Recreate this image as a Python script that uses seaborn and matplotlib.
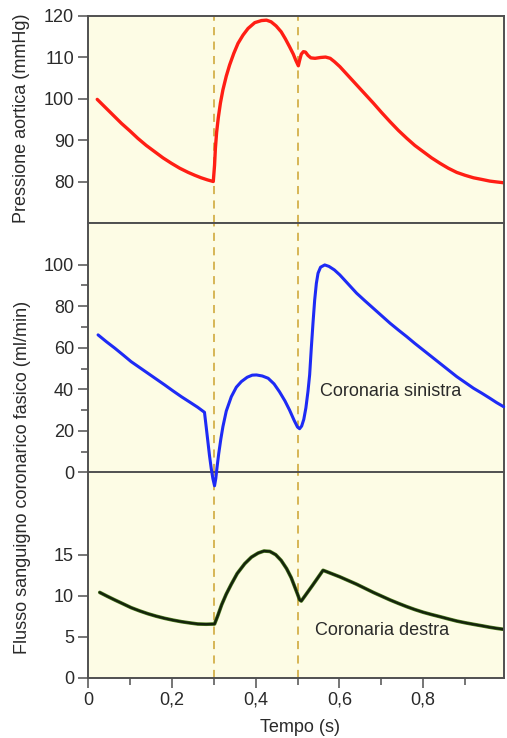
import numpy as np
import pandas as pd
import matplotlib
matplotlib.use("Agg")
import matplotlib.pyplot as plt
import matplotlib.patheffects as pe
from matplotlib.ticker import FixedLocator
import seaborn as sns

# ---------------- data ----------------
t_aorta = [0.022, 0.035, 0.048, 0.064, 0.080, 0.100, 0.119, 0.139, 0.159, 0.179,
           0.199, 0.219, 0.239, 0.255, 0.270, 0.285, 0.299,
           0.302, 0.304, 0.307, 0.311, 0.316, 0.322, 0.330, 0.338, 0.348, 0.358,
           0.370, 0.382, 0.398, 0.414, 0.426, 0.437, 0.449, 0.461, 0.471, 0.481,
           0.490, 0.496, 0.502, 0.505, 0.509, 0.514, 0.519, 0.525, 0.532, 0.542,
           0.555, 0.567, 0.578, 0.588, 0.601, 0.621, 0.641, 0.661, 0.681, 0.701,
           0.721, 0.741, 0.761, 0.780, 0.800, 0.820, 0.840, 0.860, 0.880, 0.900,
           0.920, 0.940, 0.959, 0.975, 0.992]
p_aorta = [99.9, 98.6, 97.3, 95.7, 94.1, 92.3, 90.5, 88.8, 87.3, 85.8,
           84.5, 83.3, 82.3, 81.6, 81.0, 80.5, 80.1,
           84.0, 88.0, 92.0, 95.5, 99.0, 102.2, 105.5, 108.2, 111.0, 113.4,
           115.4, 117.0, 118.4, 118.9, 119.0, 118.6, 117.6, 116.2, 114.5, 112.6,
           110.8, 109.3, 108.0, 109.3, 110.8, 111.4, 111.3, 110.5, 109.9, 109.8,
           110.0, 110.1, 109.8, 109.0, 107.8, 105.6, 103.4, 101.2, 99.0, 96.7,
           94.5, 92.4, 90.5, 88.8, 87.3, 85.8, 84.5, 83.3, 82.3, 81.6,
           81.0, 80.6, 80.2, 80.0, 79.8]

t_sx = [0.024, 0.044, 0.064, 0.084, 0.103, 0.123, 0.143, 0.163, 0.183, 0.203,
        0.223, 0.243, 0.262, 0.278, 0.282, 0.286, 0.290, 0.294, 0.298, 0.302,
        0.305, 0.308, 0.312, 0.317, 0.322, 0.330, 0.342, 0.354, 0.366, 0.380,
        0.392, 0.402, 0.416, 0.430, 0.444, 0.457, 0.470, 0.481, 0.492, 0.500,
        0.505, 0.510, 0.515, 0.520, 0.525, 0.529, 0.533, 0.537, 0.541, 0.545,
        0.549, 0.555, 0.565, 0.575, 0.588, 0.601, 0.621, 0.641, 0.661, 0.681,
        0.701, 0.721, 0.741, 0.761, 0.780, 0.800, 0.820, 0.840, 0.860, 0.880,
        0.900, 0.920, 0.940, 0.959, 0.975, 0.992]
q_sx = [66.2, 62.9, 59.8, 56.5, 53.3, 50.5, 47.7, 44.9, 42.1, 39.2,
        36.4, 33.8, 31.3, 28.9, 22.0, 15.0, 8.0, 2.0, -3.0, -6.5,
        -3.0, 2.5, 9.0, 16.0, 22.0, 29.5, 36.4, 41.0, 43.7, 45.8,
        46.8, 46.9, 46.4, 45.3, 42.6, 38.8, 34.4, 30.0, 25.0, 21.8,
        21.0, 22.3, 25.5, 31.0, 39.0, 47.0, 60.0, 72.0, 83.0, 91.0,
        95.9, 98.8, 99.9, 99.2, 97.5, 95.1, 90.7, 86.3, 82.6, 79.0,
        75.4, 71.8, 68.5, 65.3, 62.1, 58.9, 55.7, 52.5, 49.3, 46.1,
        43.3, 40.5, 38.1, 35.7, 33.6, 31.6]

t_dx = [0.028, 0.046, 0.064, 0.084, 0.103, 0.123, 0.143, 0.163, 0.183, 0.203,
        0.223, 0.243, 0.262, 0.282, 0.302, 0.310, 0.319, 0.330, 0.342, 0.356,
        0.374, 0.390, 0.406, 0.420, 0.434, 0.448, 0.461, 0.474, 0.485, 0.494,
        0.500, 0.505, 0.509, 0.535, 0.561, 0.581, 0.601, 0.621, 0.641, 0.661,
        0.681, 0.701, 0.721, 0.741, 0.761, 0.780, 0.800, 0.820, 0.840, 0.860,
        0.880, 0.900, 0.920, 0.940, 0.959, 0.975, 0.992]
q_dx = [10.4, 9.93, 9.48, 9.0, 8.54, 8.15, 7.8, 7.5, 7.24, 7.02,
        6.83, 6.68, 6.55, 6.52, 6.55, 7.6, 8.9, 10.2, 11.4, 12.7,
        13.9, 14.7, 15.2, 15.45, 15.4, 15.0, 14.3, 13.3, 12.2, 11.0,
        10.2, 9.5, 9.35, 11.2, 13.1, 12.7, 12.3, 11.85, 11.4, 10.9,
        10.4, 9.94, 9.48, 9.06, 8.66, 8.31, 7.98, 7.7, 7.44, 7.17,
        6.91, 6.7, 6.51, 6.33, 6.15, 6.02, 5.9]

x_ticks = [0, 0.2, 0.4, 0.6, 0.8]
x_labels = ["0", "0,2", "0,4", "0,6", "0,8"]
x_minor = [0.1, 0.3, 0.5, 0.7, 0.9]
p_ticks = [80, 90, 100, 110, 120]
sx_ticks = [0, 20, 40, 60, 80, 100]
sx_minor = [10, 30, 50, 70, 90]
dx_ticks = [0, 5, 10, 15]
phase_lines = [0.3, 0.5]

label_top = "Pressione aortica (mmHg)"
label_flow = "Flusso sanguigno coronarico fasico (ml/min)"
label_x = "Tempo (s)"
txt_sx = "Coronaria sinistra"
txt_dx = "Coronaria destra"

# ---------------- style ----------------
sns.set_style("ticks")
plt.rcParams["font.family"] = ["Liberation Sans", "DejaVu Sans"]
FS = 13

BG = "#FDFCE5"
SPINE = "#505050"
TXT = "#2a2a2a"
DASH = "#D4B04A"

W, H = 507, 738
fig = plt.figure(figsize=(W / 100, H / 100), dpi=100)
fig.patch.set_facecolor("white")

left = 88 / W
width = (503.5 - 88) / W
XMAX = (503.5 - 88) / 419.0


def box(top_px, bot_px):
    return [left, 1 - bot_px / H, width, (bot_px - top_px) / H]


ax1 = fig.add_axes(box(16, 223))
ax2 = fig.add_axes(box(223, 472.3))
ax3 = fig.add_axes(box(472.3, 677.7))
ax2.set_zorder(3)
ax1.set_zorder(2)
ax3.set_zorder(1)

df_a = pd.DataFrame({"t": t_aorta, "v": p_aorta})
df_s = pd.DataFrame({"t": t_sx, "v": q_sx})
df_d = pd.DataFrame({"t": t_dx, "v": q_dx})

sns.lineplot(data=df_a, x="t", y="v", ax=ax1, color="#FF1E14", lw=2.4, sort=False)
sns.lineplot(data=df_s, x="t", y="v", ax=ax2, color="#1E2BF5", lw=2.2, sort=False)
sns.lineplot(data=df_d, x="t", y="v", ax=ax3, color="#14240C", lw=1.7, sort=False)
for ax in (ax1, ax2, ax3):
    for ln in ax.lines:
        ln.set_solid_joinstyle("round")
        ln.set_solid_capstyle("round")
for ln in ax3.lines:
    ln.set_path_effects([pe.Stroke(linewidth=2.6, foreground="#4E7A22"), pe.Normal()])
for ln in ax2.lines:
    ln.set_clip_on(False)
    ln.set_zorder(5)

for ax in (ax1, ax2, ax3):
    ax.set_facecolor(BG)
    ax.set_xlim(0, XMAX)
    ax.set_xlabel("")
    ax.set_ylabel("")
    for xv in phase_lines:
        ax.axvline(xv, color=DASH, lw=1.3, ls=(0, (4.5, 3.5)), zorder=1)
    for s in ax.spines.values():
        s.set_color(SPINE)
        s.set_linewidth(1.4)
    ax.tick_params(axis="both", which="major", direction="out", length=7,
                   width=1.1, color=SPINE, labelcolor=TXT, labelsize=FS, pad=3)
    ax.tick_params(axis="both", which="minor", direction="out", length=5,
                   width=1.1, color=SPINE)

ax1.set_ylim(70.1, 120)
ax1.set_yticks(p_ticks)
ax1.set_xticks([])

ax2.set_ylim(0, 120.1)
ax2.set_yticks(sx_ticks)
ax2.yaxis.set_minor_locator(FixedLocator(sx_minor))
ax2.set_xticks([])

ax3.set_ylim(0, 25.05)
ax3.set_yticks(dx_ticks)
ax3.spines["top"].set_visible(False)
ax3.set_xticks(x_ticks)
ax3.set_xticklabels(x_labels)
ax3.xaxis.set_minor_locator(FixedLocator(x_minor))

ax2.text(0.554, 38.8, txt_sx, color=TXT, fontsize=FS, va="center", ha="left")
ax3.text(0.542, 5.8, txt_dx, color=TXT, fontsize=FS, va="center", ha="left")

fig.text(22 / W, 1 - 118.5 / H, label_top, rotation=90, va="center", ha="center",
         color=TXT, fontsize=FS)
fig.text(23 / W, 1 - 477 / H, label_flow, rotation=90, va="center", ha="center",
         color=TXT, fontsize=FS)
fig.text(300 / W, 1 - 727 / H, label_x, va="center", ha="center",
         color=TXT, fontsize=FS)

fig.savefig("out.png", dpi=100, facecolor="white")
